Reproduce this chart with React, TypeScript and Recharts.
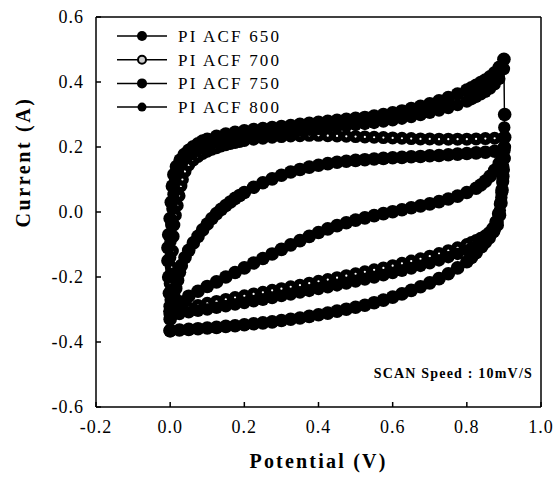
import {
  ScatterChart,
  Scatter,
  XAxis,
  YAxis,
  Legend,
  Label,
  ReferenceLine,
  Customized,
} from "recharts";

type Pt = [number, number];

const potentialTicks = [-0.2, 0, 0.2, 0.4, 0.6, 0.8, 1.0];
const currentTicks = [-0.6, -0.4, -0.2, 0, 0.2, 0.4, 0.6];
const seriesNames = ["PI ACF 650", "PI ACF 700", "PI ACF 750", "PI ACF 800"];

// each loop: anodic sweep 0 -> 0.9 V, then cathodic sweep back to 0 V
const acf650: Pt[] = [
  [0, -0.305], [0.005, -0.285], [0.01, -0.26], [0.015, -0.235], [0.02, -0.21], [0.025, -0.185],
  [0.03, -0.165], [0.04, -0.14], [0.05, -0.118], [0.0625, -0.095], [0.075, -0.075], [0.0875, -0.055],
  [0.1, -0.037], [0.1125, -0.02], [0.125, -0.005], [0.1375, 0.008], [0.15, 0.02], [0.1625, 0.031],
  [0.175, 0.042], [0.1875, 0.051], [0.2, 0.06], [0.225, 0.076], [0.25, 0.09], [0.275, 0.102],
  [0.3, 0.113], [0.325, 0.123], [0.35, 0.131], [0.375, 0.138], [0.4, 0.144], [0.425, 0.149],
  [0.45, 0.153], [0.475, 0.156], [0.5, 0.159], [0.525, 0.161], [0.55, 0.163], [0.575, 0.165],
  [0.6, 0.167], [0.625, 0.168], [0.65, 0.17], [0.675, 0.171], [0.7, 0.173], [0.725, 0.174],
  [0.75, 0.176], [0.775, 0.178], [0.8, 0.18], [0.825, 0.182], [0.85, 0.184], [0.875, 0.187],
  [0.9, 0.19],
  [0.895, 0.17], [0.8875, 0.15], [0.875, 0.128], [0.8625, 0.11], [0.85, 0.095], [0.8375, 0.083],
  [0.825, 0.073], [0.8, 0.06], [0.775, 0.049], [0.75, 0.04], [0.725, 0.032], [0.7, 0.025],
  [0.675, 0.019], [0.65, 0.013], [0.625, 0.007], [0.6, 0.001], [0.575, -0.005], [0.55, -0.011],
  [0.525, -0.018], [0.5, -0.025], [0.475, -0.033], [0.45, -0.042], [0.425, -0.052], [0.4, -0.063],
  [0.375, -0.075], [0.35, -0.088], [0.325, -0.101], [0.3, -0.115], [0.275, -0.129], [0.25, -0.143],
  [0.225, -0.157], [0.2, -0.172], [0.175, -0.186], [0.15, -0.2], [0.125, -0.215], [0.1, -0.229],
  [0.075, -0.244], [0.05, -0.259], [0.025, -0.276], [0, -0.305],
];

const acf700: Pt[] = [
  [0, -0.315], [0.002, -0.27], [0, -0.22], [0.003, -0.17], [0.006, -0.12], [0.008, -0.075],
  [0.01, -0.04], [0.014, -0.01], [0.019, 0.02], [0.024, 0.05], [0.029, 0.08], [0.033, 0.1],
  [0.04, 0.125], [0.05, 0.145], [0.0625, 0.16], [0.075, 0.171], [0.0875, 0.18], [0.1, 0.187],
  [0.1125, 0.193], [0.125, 0.198], [0.1375, 0.203], [0.15, 0.207], [0.1625, 0.211], [0.175, 0.214],
  [0.1875, 0.217], [0.2, 0.22], [0.225, 0.224], [0.25, 0.227], [0.275, 0.23], [0.3, 0.232],
  [0.325, 0.234], [0.35, 0.235], [0.375, 0.236], [0.4, 0.236], [0.425, 0.235], [0.45, 0.234],
  [0.475, 0.233], [0.5, 0.232], [0.525, 0.231], [0.55, 0.23], [0.575, 0.229], [0.6, 0.228],
  [0.625, 0.227], [0.65, 0.226], [0.675, 0.225], [0.7, 0.225], [0.725, 0.224], [0.75, 0.224],
  [0.775, 0.224], [0.8, 0.224], [0.825, 0.225], [0.85, 0.226], [0.875, 0.227], [0.9, 0.228],
  [0.902, 0.2], [0.901, 0.165], [0.899, 0.13], [0.897, 0.095], [0.894, 0.06], [0.89, 0.025],
  [0.885, -0.005], [0.878, -0.03], [0.87, -0.05], [0.86, -0.064], [0.85, -0.073], [0.8375, -0.081],
  [0.825, -0.088], [0.8125, -0.094], [0.8, -0.1], [0.775, -0.11], [0.75, -0.119], [0.725, -0.128],
  [0.7, -0.136], [0.675, -0.144], [0.65, -0.151], [0.625, -0.158], [0.6, -0.165], [0.575, -0.172],
  [0.55, -0.178], [0.525, -0.184], [0.5, -0.19], [0.475, -0.196], [0.45, -0.202], [0.425, -0.208],
  [0.4, -0.213], [0.375, -0.219], [0.35, -0.225], [0.325, -0.23], [0.3, -0.236], [0.275, -0.241],
  [0.25, -0.247], [0.225, -0.252], [0.2, -0.258], [0.175, -0.263], [0.15, -0.269], [0.125, -0.275],
  [0.1, -0.281], [0.075, -0.288], [0.05, -0.295], [0.025, -0.303], [0, -0.315],
];

const acf750: Pt[] = [
  [0, -0.365], [0, -0.33], [0, -0.29], [-0.002, -0.25], [-0.004, -0.2], [-0.006, -0.15],
  [-0.006, -0.11], [-0.004, -0.07], [0, -0.02], [0.003, 0.03], [0.006, 0.08], [0.01, 0.115],
  [0.017, 0.14], [0.027, 0.16], [0.038, 0.177], [0.05, 0.19], [0.0625, 0.201], [0.075, 0.21],
  [0.0875, 0.218], [0.1, 0.224], [0.125, 0.233], [0.15, 0.24], [0.175, 0.245], [0.2, 0.25],
  [0.225, 0.254], [0.25, 0.257], [0.275, 0.26], [0.3, 0.263], [0.325, 0.266], [0.35, 0.27],
  [0.375, 0.273], [0.4, 0.276], [0.425, 0.279], [0.45, 0.282], [0.475, 0.285], [0.5, 0.288],
  [0.525, 0.291], [0.55, 0.295], [0.575, 0.3], [0.6, 0.305], [0.625, 0.311], [0.65, 0.318],
  [0.675, 0.325], [0.7, 0.333], [0.725, 0.342], [0.75, 0.352], [0.775, 0.363], [0.8, 0.375],
  [0.8125, 0.382], [0.825, 0.39], [0.8375, 0.398], [0.85, 0.406], [0.8625, 0.416], [0.875, 0.428],
  [0.8875, 0.445], [0.9, 0.47],
  [0.902, 0.3], [0.902, 0.23], [0.9, 0.166], [0.897, 0.11], [0.895, 0.068], [0.892, 0.028],
  [0.888, -0.01], [0.882, -0.04], [0.872, -0.06], [0.86, -0.08], [0.85, -0.093], [0.84, -0.107],
  [0.825, -0.125], [0.8125, -0.14], [0.8, -0.153], [0.775, -0.172], [0.75, -0.19], [0.725, -0.205],
  [0.7, -0.218], [0.675, -0.23], [0.65, -0.241], [0.625, -0.252], [0.6, -0.262], [0.575, -0.271],
  [0.55, -0.279], [0.525, -0.287], [0.5, -0.293], [0.475, -0.299], [0.45, -0.305], [0.425, -0.311],
  [0.4, -0.316], [0.375, -0.321], [0.35, -0.326], [0.325, -0.33], [0.3, -0.334], [0.275, -0.338],
  [0.25, -0.341], [0.225, -0.344], [0.2, -0.347], [0.175, -0.35], [0.15, -0.352], [0.125, -0.355],
  [0.1, -0.357], [0.075, -0.359], [0.05, -0.361], [0.025, -0.363], [0, -0.365],
];

const acf800: Pt[] = [
  [0, -0.32], [0.004, -0.28], [0.003, -0.24], [0.001, -0.19], [0, -0.14], [0.001, -0.09],
  [0.003, -0.04], [0.006, 0.01], [0.009, 0.055], [0.013, 0.095], [0.02, 0.125], [0.03, 0.148],
  [0.04, 0.163], [0.05, 0.174], [0.0625, 0.185], [0.075, 0.193], [0.0875, 0.2], [0.1, 0.205],
  [0.125, 0.213], [0.15, 0.22], [0.175, 0.225], [0.2, 0.23], [0.225, 0.234], [0.25, 0.237],
  [0.275, 0.24], [0.3, 0.243], [0.325, 0.246], [0.35, 0.25], [0.375, 0.253], [0.4, 0.256],
  [0.425, 0.259], [0.45, 0.262], [0.475, 0.265], [0.5, 0.268], [0.525, 0.271], [0.55, 0.274],
  [0.575, 0.278], [0.6, 0.282], [0.625, 0.287], [0.65, 0.292], [0.675, 0.298], [0.7, 0.305],
  [0.725, 0.312], [0.75, 0.32], [0.775, 0.329], [0.8, 0.34], [0.8125, 0.347], [0.825, 0.354],
  [0.8375, 0.362], [0.85, 0.37], [0.8625, 0.38], [0.875, 0.393], [0.8875, 0.41], [0.9, 0.44],
  [0.901, 0.26], [0.9, 0.2], [0.898, 0.14], [0.896, 0.09], [0.893, 0.045], [0.889, 0.005],
  [0.883, -0.03], [0.875, -0.055], [0.865, -0.07], [0.86, -0.078], [0.85, -0.088], [0.8375, -0.097],
  [0.825, -0.105], [0.8125, -0.112], [0.8, -0.118], [0.775, -0.129], [0.75, -0.139], [0.725, -0.149],
  [0.7, -0.158], [0.675, -0.166], [0.65, -0.174], [0.625, -0.181], [0.6, -0.188], [0.575, -0.195],
  [0.55, -0.202], [0.525, -0.208], [0.5, -0.214], [0.475, -0.22], [0.45, -0.226], [0.425, -0.232],
  [0.4, -0.237], [0.375, -0.243], [0.35, -0.248], [0.325, -0.254], [0.3, -0.259], [0.275, -0.265],
  [0.25, -0.27], [0.225, -0.275], [0.2, -0.28], [0.175, -0.285], [0.15, -0.29], [0.125, -0.295],
  [0.1, -0.3], [0.075, -0.304], [0.05, -0.309], [0.025, -0.314], [0, -0.32],
];

const FONT = '"Liberation Serif", "Times New Roman", serif';

// plot markers (dense, overlapping like the scanned bands)
const markerStyle: Record<string, { r: number; fill: string; strokeWidth: number }> = {
  "PI ACF 650": { r: 6.8, fill: "#000", strokeWidth: 0 },
  "PI ACF 700": { r: 3.8, fill: "#fff", strokeWidth: 5.4 },
  "PI ACF 750": { r: 6.8, fill: "#000", strokeWidth: 0 },
  "PI ACF 800": { r: 6.2, fill: "#000", strokeWidth: 0 },
};

// legend markers
const legendMarker: Record<string, { r: number; fill: string; strokeWidth: number }> = {
  "PI ACF 650": { r: 5, fill: "#000", strokeWidth: 0 },
  "PI ACF 700": { r: 4, fill: "#ccc", strokeWidth: 2 },
  "PI ACF 750": { r: 5, fill: "#000", strokeWidth: 0 },
  "PI ACF 800": { r: 4.5, fill: "#000", strokeWidth: 0 },
};

const toPoints = (pairs: Pt[]) => pairs.map(([x, y]) => ({ x, y }));

const makeDot = (name: string) => (props: any) => {
  const m = markerStyle[name];
  return (
    <circle cx={props.cx} cy={props.cy} r={m.r} fill={m.fill} stroke="#000" strokeWidth={m.strokeWidth} />
  );
};

function LegendBox() {
  return (
    <svg width={320} height={125} style={{ display: "block" }}>
      {seriesNames.map((name, i) => {
        const y = 36 + i * 23.7;
        const m = legendMarker[name];
        return (
          <g key={name}>
            <line x1={117} x2={167} y1={y} y2={y} stroke="#000" strokeWidth={1.5} />
            <circle cx={142} cy={y} r={m.r} fill={m.fill} stroke="#000" strokeWidth={m.strokeWidth} />
            <text x={178} y={y + 6} fontFamily={FONT} fontSize={17} letterSpacing={2.2} fill="#000">
              {name}
            </text>
          </g>
        );
      })}
    </svg>
  );
}

const XTitle = (props: any) => {
  const vb = props.viewBox;
  return (
    <text
      x={vb.x + vb.width / 2}
      y={vb.y + 61}
      textAnchor="middle"
      fontFamily={FONT}
      fontWeight="bold"
      fontSize={20}
      letterSpacing={2.2}
      fill="#000"
    >
      Potential (V)
    </text>
  );
};

const YTitle = (props: any) => {
  const vb = props.viewBox;
  const cx = vb.x + 30;
  const cy = vb.y + vb.height / 2 - 50;
  return (
    <text
      x={cx}
      y={cy}
      transform={`rotate(-90 ${cx} ${cy})`}
      textAnchor="middle"
      fontFamily={FONT}
      fontWeight="bold"
      fontSize={20}
      letterSpacing={2.6}
      fill="#000"
    >
      Current (A)
    </text>
  );
};

const ScanNote = () => (
  <text
    x={533}
    y={378}
    textAnchor="end"
    fontFamily={FONT}
    fontWeight="bold"
    fontSize={14}
    letterSpacing={1.2}
    fill="#000"
  >
    SCAN Speed : 10mV/S
  </text>
);

const tickStyle = { fontFamily: FONT, fontSize: 18, fill: "#000", letterSpacing: 1 };

export default function App() {
  // 700 goes first so the filled loops lie over it where they share a band
  const order: [string, Pt[]][] = [
    ["PI ACF 700", acf700],
    ["PI ACF 650", acf650],
    ["PI ACF 750", acf750],
    ["PI ACF 800", acf800],
  ];
  return (
    <div style={{ position: "absolute", left: 0, top: 0, width: 556, height: 479, background: "#fff" }}>
      <ScatterChart width={556} height={479} margin={{ top: 17, right: 15, bottom: 0, left: 0 }}>
        <XAxis
          type="number"
          dataKey="x"
          domain={[-0.2, 1.0]}
          ticks={potentialTicks}
          tickFormatter={(v: number) => v.toFixed(1)}
          height={72}
          tick={tickStyle}
          tickSize={-5}
          tickMargin={18}
          axisLine={{ stroke: "#000", strokeWidth: 1.5 }}
          tickLine={{ stroke: "#000", strokeWidth: 1.5 }}
          allowDataOverflow
        >
          <Label content={XTitle} />
        </XAxis>
        <YAxis
          type="number"
          dataKey="y"
          domain={[-0.6, 0.6]}
          ticks={currentTicks}
          tickFormatter={(v: number) => v.toFixed(1)}
          width={96}
          tick={tickStyle}
          tickSize={-5}
          tickMargin={17}
          axisLine={{ stroke: "#000", strokeWidth: 1.5 }}
          tickLine={{ stroke: "#000", strokeWidth: 1.5 }}
          allowDataOverflow
        >
          <Label content={YTitle} />
        </YAxis>
        <ReferenceLine y={0.6} stroke="#000" strokeWidth={1.5} />
        <ReferenceLine x={1.0} stroke="#000" strokeWidth={1.5} />
        {order.map(([name, pts]) => (
          <Scatter
            key={name}
            name={name}
            data={toPoints(pts)}
            line={{ stroke: "#000", strokeWidth: 1 }}
            lineType="joint"
            shape={makeDot(name)}
            isAnimationActive={false}
          />
        ))}
        <Legend
          layout="vertical"
          align="center"
          verticalAlign="middle"
          wrapperStyle={{ left: 0, top: 0, width: 320, height: 125 }}
          content={() => <LegendBox />}
        />
        <Customized component={ScanNote} />
      </ScatterChart>
    </div>
  );
}
